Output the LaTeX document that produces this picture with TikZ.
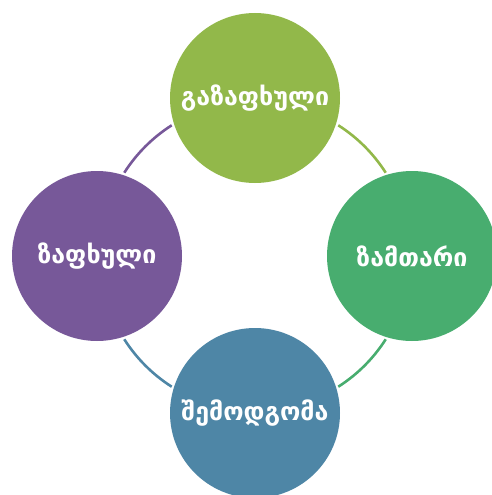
\documentclass[tikz,border=0pt]{standalone}
\usepackage{fontspec}
\usetikzlibrary{calc}
\newfontfamily\geofont{DejaVu Sans}
\begin{document}
\begin{tikzpicture}[x=1pt,y=-1pt,
  season/.style={circle,minimum size=170pt,inner sep=0pt,text=white,
    font=\geofont\bfseries\fontsize{25}{28}\selectfont},
  link/.style={line width=2.6pt}]
\definecolor{cspring}{RGB}{146,184,74}
\definecolor{cwinter}{RGB}{72,173,111}
\definecolor{cautumn}{RGB}{78,134,166}
\definecolor{csummer}{RGB}{119,88,153}
\useasboundingbox (0,0) rectangle (491,495);
\coordinate (hub) at (255,256);
% connecting ring, one arc per season
\draw[link,csummer] ($(hub)+(147.5:155pt)$) arc[start angle=147.5,end angle=122.5,radius=155pt];
\draw[link,cspring] ($(hub)+(57.5:155pt)$) arc[start angle=57.5,end angle=32.5,radius=155pt];
\draw[link,cwinter] ($(hub)+(-32.5:155pt)$) arc[start angle=-32.5,end angle=-57.5,radius=155pt];
\draw[link,cautumn] ($(hub)+(-122.5:155pt)$) arc[start angle=-122.5,end angle=-147.5,radius=155pt];
\node[season,fill=cspring] (spring) at (255,98) {გაზაფხული};
\node[season,fill=cwinter] (winter) at (412,256) {ზამთარი};
\node[season,fill=cautumn] (autumn) at (255,413) {შემოდგომა};
\node[season,fill=csummer] (summer) at (97,256) {ზაფხული};
\end{tikzpicture}
\end{document}
